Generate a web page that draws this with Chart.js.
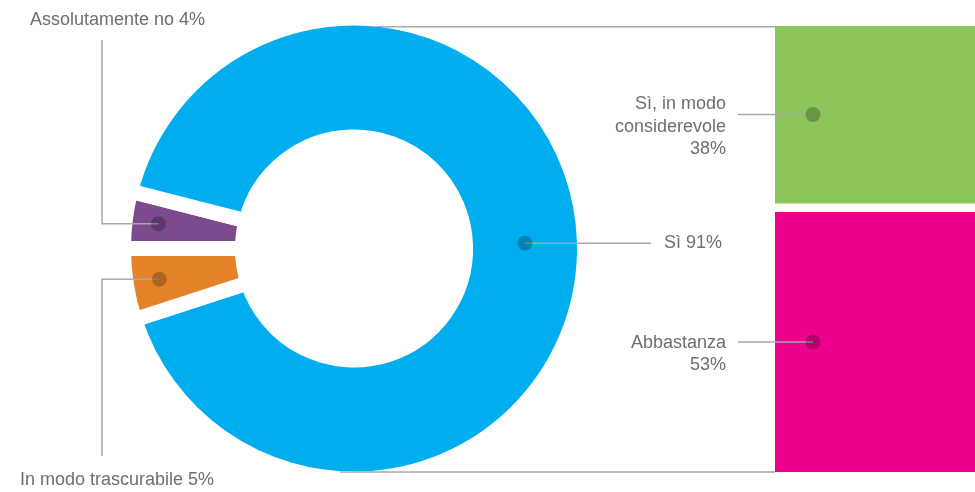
<!DOCTYPE html>
<html>
<head>
<meta charset="utf-8">
<script src="https://cdn.jsdelivr.net/npm/chart.js@4.4.1/dist/chart.umd.min.js"></script>
<style>
  html, body { margin: 0; padding: 0; background: #fff; }
  #wrap { position: relative; width: 975px; height: 492px; overflow: hidden; }
  #wrap canvas { position: absolute; left: 0; top: 0; }
  #pieChart { z-index: 2; }
  #barChart { z-index: 1; }
</style>
</head>
<body>
<div id="wrap">
  <canvas id="barChart" width="975" height="492"></canvas>
  <canvas id="pieChart" width="975" height="492"></canvas>
</div>
<script>
// doughnut: overall answer
const pieLabels = ['Assolutamente no', 'Sì', 'In modo trascurabile'];
const pieValues = [4, 91, 5];
const pieColors = ['#7c4a8d', '#00aeef', '#e5832a'];

// stacked bar: breakdown of the "Sì"
const barLabels = [['Abbastanza'], ['Sì, in modo', 'considerevole']];
const barValues = [53, 38];
const barColors = ['#ec008c', '#8cc65a'];

const TEXT = '#6e6e6e';
const LINE = '#a9a9a9';
const FONT = '18px "Liberation Sans", Arial, sans-serif';
const GAP = 15; // white border between slices
const BAR_GAP = 9;

function dot(ctx, x, y) {
  ctx.beginPath();
  ctx.arc(x, y, 7.5, 0, Math.PI * 2);
  ctx.fillStyle = 'rgba(0,0,0,0.24)';
  ctx.fill();
}

function line(ctx, pts) {
  ctx.beginPath();
  ctx.moveTo(pts[0][0], pts[0][1]);
  for (let i = 1; i < pts.length; i++) ctx.lineTo(pts[i][0], pts[i][1]);
  ctx.strokeStyle = LINE;
  ctx.lineWidth = 1.5;
  ctx.stroke();
}

const barLabelsPlugin = {
  id: 'barLabels',
  afterDatasetsDraw(chart) {
    const ctx = chart.ctx;
    const left = chart.chartArea.left;
    ctx.save();
    ctx.font = FONT;
    ctx.textBaseline = 'middle';
    ctx.textAlign = 'right';
    chart.data.datasets.forEach((ds, i) => {
      const bar = chart.getDatasetMeta(i).data[0];
      const gap = i === 1 ? BAR_GAP : 0;
      const cy = (bar.y + bar.base - gap) / 2;
      const dx = left + 38;
      line(ctx, [[left - 37, cy], [dx, cy]]);
      dot(ctx, dx, cy);
      const lines = barLabels[i].concat([barValues[i] + '%']);
      const lh = 22.5;
      const y0 = cy + 12 - (lines.length - 1) * lh / 2;
      ctx.fillStyle = TEXT;
      lines.forEach((t, k) => ctx.fillText(t, left - 49, y0 + k * lh));
    });
    ctx.restore();
  }
};

const barChart = new Chart(document.getElementById('barChart'), {
  type: 'bar',
  data: {
    labels: ['Sì'],
    datasets: [
      {
        label: barLabels[0].join(' '),
        data: [barValues[0]],
        backgroundColor: barColors[0],
        borderWidth: 0
      },
      {
        label: barLabels[1].join(' '),
        data: [barValues[1]],
        backgroundColor: barColors[1],
        borderColor: '#ffffff',
        borderWidth: { top: 0, left: 0, right: 0, bottom: BAR_GAP },
        borderSkipped: false
      }
    ]
  },
  options: {
    responsive: false,
    animation: false,
    barPercentage: 1,
    categoryPercentage: 1,
    layout: { padding: { left: 775, right: 0, top: 26, bottom: 20 } },
    scales: {
      x: { stacked: true, display: false },
      y: { stacked: true, display: false, min: 0, max: 91 }
    },
    plugins: { legend: { display: false }, tooltip: { enabled: false } }
  },
  plugins: [barLabelsPlugin]
});

const pieLabelsPlugin = {
  id: 'pieLabels',
  afterDatasetsDraw(chart) {
    const ctx = chart.ctx;
    const meta = chart.getDatasetMeta(0);
    const c = meta.data[1];
    const rVis = c.outerRadius - GAP / 2;

    // grey lines tying the doughnut's top and bottom to the bar, kept under the ring
    const { top, bottom, left } = barChart.chartArea;
    ctx.save();
    ctx.beginPath();
    ctx.rect(0, 0, chart.width, chart.height);
    ctx.arc(c.x, c.y, rVis, 0, Math.PI * 2);
    ctx.clip('evenodd');
    line(ctx, [[c.x - 8, top + 0.75], [left, top + 0.75]]);
    line(ctx, [[c.x - 14, bottom], [left, bottom]]);
    ctx.restore();

    ctx.save();
    ctx.font = FONT;
    ctx.textBaseline = 'middle';
    ctx.textAlign = 'left';
    meta.data.forEach((arc, i) => {
      const p = arc.getProps(['x', 'y', 'startAngle', 'endAngle', 'innerRadius', 'outerRadius']);
      const mid = (p.startAngle + p.endAngle) / 2;
      const rIn = p.innerRadius + GAP / 2;
      const rOut = p.outerRadius - GAP / 2;
      const r = i === 1 ? (rIn + rOut) / 2 : rIn + (rOut - rIn) * 0.75;
      const dx = p.x + Math.cos(mid) * r;
      const dy = p.y + Math.sin(mid) * r;
      const text = pieLabels[i] + ' ' + pieValues[i] + '%';
      if (i === 1) {
        line(ctx, [[dx, dy], [651, dy]]);
        ctx.fillStyle = TEXT;
        ctx.fillText(text, 664, dy);
      } else if (i === 0) {
        line(ctx, [[dx, dy], [102, dy], [102, 40]]);
        ctx.fillStyle = TEXT;
        ctx.fillText(text, 30, 20);
      } else {
        line(ctx, [[dx, dy], [102, dy], [102, 456]]);
        ctx.fillStyle = TEXT;
        ctx.fillText(text, 20, 480);
      }
      dot(ctx, dx, dy);
    });
    ctx.restore();
  }
};

new Chart(document.getElementById('pieChart'), {
  type: 'doughnut',
  data: {
    labels: pieLabels,
    datasets: [{
      data: pieValues,
      backgroundColor: pieColors,
      borderColor: '#ffffff',
      borderWidth: GAP,
      hoverOffset: 0
    }]
  },
  options: {
    responsive: false,
    animation: false,
    rotation: -90,
    cutout: '48.4%',
    radius: 230.5,
    layout: { padding: { left: 123.5, right: 390.5, top: 18, bottom: 13 } },
    plugins: { legend: { display: false }, tooltip: { enabled: false } }
  },
  plugins: [pieLabelsPlugin]
});
</script>
</body>
</html>
